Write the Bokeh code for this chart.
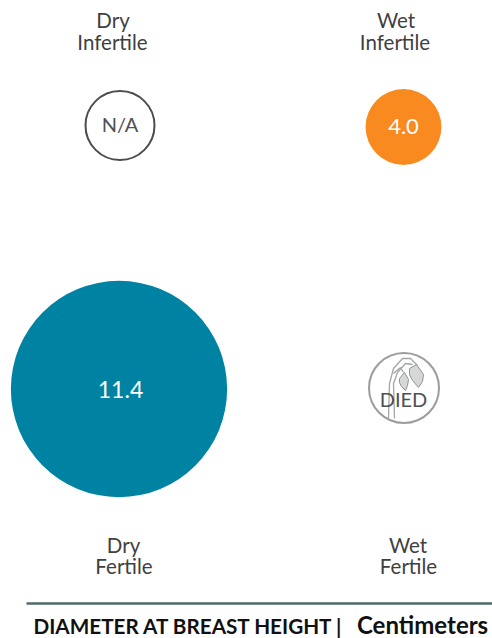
from bokeh.plotting import figure
from bokeh.models import Range1d
from bokeh.core.properties import value
from bokeh.embed import file_html
from bokeh.resources import INLINE

# data
quadrants = ["Dry Infertile", "Wet Infertile", "Dry Fertile", "Wet Fertile"]
dbh_values = [None, 4.0, 11.4, None]
center_labels = ["N/A", "4.0", "11.4", "DIED"]
axis_title = "DIAMETER AT BREAST HEIGHT |"
axis_unit = "Centimeters"
top_labels = [("Dry", "Infertile"), ("Wet", "Infertile")]
bottom_labels = [("Dry", "Fertile"), ("Wet", "Fertile")]

W, H = 492, 638
PX_PER_CM = 18.97
FONT = "Lato"

p = figure(width=W, height=H, output_backend="svg", toolbar_location=None,
           x_range=Range1d(0, W), y_range=Range1d(H, 0), min_border=0,
           outline_line_color=None, background_fill_color="white",
           border_fill_color="white")
p.axis.visible = False
p.grid.visible = False

# filled circles
p.circle([118.5], [388.5], radius=[dbh_values[2] * PX_PER_CM / 2], fill_color="#0083A3", line_color=None)
p.circle([403], [126.5], radius=[dbh_values[1] * PX_PER_CM / 2], fill_color="#F98A1F", line_color=None)
# outline circles
p.circle([119.5], [125], radius=[34.5], fill_color=None, line_color="#4d4d4d", line_width=2)
p.circle([403.5], [387.5], radius=[35], fill_color=None, line_color="#9c9c9c", line_width=2)

# wilted plant icon
GREY = "#a3a6a6"
stems_x = [[388, 389, 393, 402, 410, 417],
           [394, 393, 397, 405, 412],
           [393, 400, 403]]
stems_y = [[418, 383, 368, 358, 358, 365],
           [418, 383, 372, 363, 364],
           [373, 367, 372]]
p.multi_line(stems_x, stems_y, line_color=GREY, line_width=1.3)
leaf_x = [[409, 416, 423, 422, 418, 412, 409], [399, 404, 408, 407, 405, 401, 399]]
leaf_y = [[368, 364, 374, 381, 387, 380, 374], [378, 372, 379, 385, 390, 386, 382]]
p.patches(leaf_x, leaf_y, fill_color="#d6d8d8", line_color="#8f9393", line_width=1)

# centre labels
def label(x, y, t, color="#3f3f3f", size=20.5, style="normal", align="center"):
    p.text([x], [y], text=[t], text_font=value(FONT), text_font_size=f"{size}px",
           text_font_style=style, text_color=color, text_align=align, text_baseline="middle")

label(119.5, 123, center_labels[0], color="#4d5152", size=20)
label(403, 126, center_labels[1], color="white", size=22)
label(120, 389, center_labels[2], color="white", size=23)
label(403, 398, center_labels[3], color="#4d5152", size=20)

# quadrant labels
label(112.5, 19, top_labels[0][0])
label(112, 41, top_labels[0][1])
label(395.5, 19, top_labels[1][0])
label(394.5, 41, top_labels[1][1])
label(123, 544, bottom_labels[0][0])
label(123.5, 565, bottom_labels[0][1])
label(407.5, 544, bottom_labels[1][0])
label(408, 565, bottom_labels[1][1])

# rule + axis title
p.line([26, 492], [603, 603], line_color="#4f6a6c", line_width=2.5)
label(33, 625.5, axis_title, color="#111111", size=20.7, style="bold", align="left")
label(356.5, 624, axis_unit, color="#111111", size=24, style="bold", align="left")

open("out.html", "w").write(file_html(p, INLINE))
